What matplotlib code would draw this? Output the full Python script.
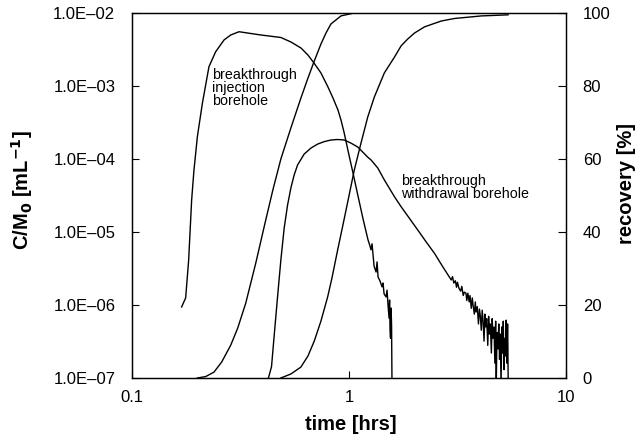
import matplotlib
matplotlib.use("Agg")
import matplotlib.pyplot as plt
from matplotlib.ticker import FixedLocator, FuncFormatter, NullLocator

plt.rcParams['font.family'] = ['Liberation Sans', 'DejaVu Sans']

# breakthrough at injection borehole (C/M0, left axis)
t_inj = [0.1693, 0.1767, 0.1824, 0.1883, 0.1930, 0.2001, 0.2110, 0.2263, 0.2430, 0.2655,
         0.2851, 0.3113, 0.3526, 0.3923, 0.4853, 0.5397, 0.6003, 0.6465, 0.6893, 0.7425,
         0.7998, 0.8435, 0.8896, 0.9184, 0.9482, 1.000, 1.0435, 1.1003, 1.1607, 1.2242,
         1.250, 1.263, 1.277, 1.305, 1.333, 1.347, 1.361, 1.390, 1.420, 1.435,
         1.451, 1.482, 1.497, 1.513, 1.530, 1.538, 1.546, 1.554, 1.563, 1.571, 1.580]
c_inj = [9.4e-7, 1.25e-6, 4.1e-6, 2.74e-5, 7.06e-5, 2.02e-4, 5.79e-4, 1.84e-3, 2.95e-3, 4.27e-3,
         5.0e-3, 5.54e-3, 5.24e-3, 5.0e-3, 4.62e-3, 4.01e-3, 3.32e-3, 2.66e-3, 2.07e-3, 1.51e-3,
         9.7e-4, 6.85e-4, 4.69e-4, 3.42e-4, 2.34e-4, 1.13e-4, 6.43e-5, 3.11e-5, 1.51e-5, 7.76e-6,
         6.4e-6, 5.7e-6, 6.9e-6, 3.4e-6, 2.83e-6, 3.9e-6, 2.42e-6, 2.13e-6, 1.77e-6, 2.0e-6,
         1.42e-6, 1.29e-6, 1.6e-6, 1.0e-6, 6.6e-7, 1.17e-6, 4.5e-7, 3.5e-7, 9.1e-7, 5.3e-7, 5.0e-8]

# breakthrough at withdrawal borehole (C/M0, left axis)
t_wd = [0.4212, 0.4395, 0.4519, 0.4685, 0.4853, 0.5026, 0.5211, 0.5397, 0.5588, 0.5794,
        0.6217, 0.6675, 0.7167, 0.7686, 0.8257, 0.8867, 0.9513, 1.0214, 1.0970, 1.2200,
        1.2637, 1.3570, 1.4555, 1.6192, 1.7384, 1.8925, 2.0767, 2.2689, 2.4774, 2.7086,
        2.96, 3.00, 3.04, 3.09, 3.13, 3.16, 3.21, 3.27, 3.31, 3.36,
        3.40, 3.46, 3.49, 3.53, 3.58, 3.61, 3.66, 3.70, 3.73, 3.78,
        3.82, 3.85, 3.90, 3.95, 3.99, 4.03, 4.07, 4.11, 4.15, 4.19,
        4.23, 4.27, 4.31, 4.36, 4.40, 4.44, 4.48, 4.53, 4.57, 4.61,
        4.66, 4.70, 4.74, 4.77, 4.81, 4.86, 4.90, 4.94, 4.98, 5.02,
        5.06, 5.10, 5.14, 5.18, 5.22, 5.26, 5.30, 5.34, 5.38, 5.40, 5.42]
c_wd = [9.0e-8, 1.43e-7, 3.76e-7, 1.29e-6, 4.13e-6, 1.13e-5, 2.34e-5, 4.01e-5, 6.04e-5, 8.28e-5,
        1.17e-4, 1.41e-4, 1.6e-4, 1.73e-4, 1.82e-4, 1.85e-4, 1.82e-4, 1.65e-4, 1.46e-4, 1.06e-4,
        9.7e-5, 7.53e-5, 5.16e-5, 3.05e-5, 2.22e-5, 1.56e-5, 1.06e-5, 7.3e-6, 5.1e-6, 3.32e-6,
        2.2e-6, 2.45e-6, 2.0e-6, 2.15e-6, 1.75e-6, 2.05e-6, 1.7e-6, 1.55e-6, 1.8e-6, 1.35e-6,
        1.5e-6, 1.45e-6, 1.15e-6, 1.45e-6, 1.1e-6, 1.35e-6, 9.0e-7, 1.25e-6, 1.0e-6, 7.5e-7,
        1.1e-6, 8.0e-7, 9.5e-7, 5.5e-7, 8.8e-7, 7.0e-7, 4.5e-7, 8.5e-7, 6.0e-7, 3.2e-7,
        7.5e-7, 5.0e-7, 6.5e-7, 2.8e-7, 7.0e-7, 4.0e-7, 5.5e-7, 2.2e-7, 6.5e-7, 3.5e-7,
        5.0e-7, 1.6e-7, 6.0e-7, 8.0e-8, 4.2e-7, 2.5e-7, 5.5e-7, 1.8e-7, 4.0e-7, 8.0e-8,
        5.0e-7, 2.2e-7, 6.0e-7, 1.3e-7, 3.5e-7, 2.0e-7, 6.2e-7, 1.6e-7, 5.5e-7, 2.5e-7, 5.0e-8]

# recovery curves (%, right axis)
t_rec1 = [0.2001, 0.2186, 0.2386, 0.2591, 0.2851, 0.3071, 0.3343, 0.3719, 0.4093, 0.4457,
          0.4853, 0.5397, 0.6003, 0.6445, 0.6893, 0.7425, 0.7830, 0.8257, 0.9184, 1.0546, 1.60]
r_rec1 = [0.0, 0.4, 1.6, 4.4, 9.0, 13.7, 20.5, 31.5, 42.2, 51.5,
          60.0, 68.5, 76.7, 81.9, 86.6, 91.5, 94.5, 97.0, 99.2, 100.0, 100.0]

t_rec2 = [0.4853, 0.5397, 0.6003, 0.6465, 0.6915, 0.7425, 0.7972, 0.8346, 0.8867, 0.9352,
          0.9863, 1.0580, 1.1361, 1.2200, 1.3088, 1.4555, 1.6192, 1.7384, 1.8665, 2.0026,
          2.2277, 2.6606, 3.0643, 4.0720, 5.4079]
r_rec2 = [0.0, 1.1, 3.0, 6.0, 10.1, 15.6, 22.2, 27.4, 35.1, 41.6,
          48.2, 57.0, 64.4, 71.5, 77.0, 83.6, 87.9, 91.0, 92.9, 94.5,
          96.2, 97.8, 98.5, 99.2, 99.5]

ytick_vals = [1e-7, 1e-6, 1e-5, 1e-4, 1e-3, 1e-2]
xtick_vals = [0.1, 1, 10]
xtick_labels = ['0.1', '1', '10']
rtick_vals = [0, 20, 40, 60, 80, 100]

fig = plt.figure(figsize=(6.43, 4.38), dpi=100)
ax = fig.add_axes([132/643, 1-378/438, (566-132)/643, (378-13)/438])
ax2 = ax.twinx()

ax.plot(t_inj, c_inj, color='black', lw=1.0)
ax.plot(t_wd, c_wd, color='black', lw=1.0)
ax2.plot(t_rec1, r_rec1, color='black', lw=1.0)
ax2.plot(t_rec2, r_rec2, color='black', lw=1.0)

ax.set_xscale('log')
ax.set_yscale('log')
ax.set_xlim(0.1, 10)
ax.set_ylim(1e-7, 1e-2)
ax2.set_ylim(0, 100)

ax.xaxis.set_major_locator(FixedLocator(xtick_vals))
ax.xaxis.set_major_formatter(FuncFormatter(lambda v, p: xtick_labels[xtick_vals.index(v)] if v in xtick_vals else ''))
ax.xaxis.set_minor_locator(NullLocator())
ax.yaxis.set_major_locator(FixedLocator(ytick_vals))
ax.yaxis.set_minor_locator(NullLocator())
ax.yaxis.set_major_formatter(FuncFormatter(lambda v, p: ('%.1E' % v).replace('-', '\u2013')))
ax2.yaxis.set_major_locator(FixedLocator(rtick_vals))

ax.tick_params(axis='both', direction='in', length=5, width=0.8, labelsize=12, pad=12)
ax.tick_params(axis='x', pad=9)
ax2.tick_params(axis='y', direction='in', length=6, width=0.8, labelsize=12, pad=12)
for a in (ax, ax2):
    for s in a.spines.values():
        s.set_linewidth(0.9)

ax.text(0.233, 1.75e-3, 'breakthrough\ninjection\nborehole', fontsize=10.3,
        va='top', ha='left', linespacing=0.92)
ax.text(1.74, 6.2e-5, 'breakthrough\nwithdrawal borehole', fontsize=10.3,
        va='top', ha='left', linespacing=0.92)

fig.text(351/643, 1-424/438, 'time [hrs]', fontsize=14.5, fontweight='bold',
         ha='center', va='center')
fig.text(22/643, 1-190/438, r'C/M$_\mathbf{0}$ [mL$^\mathbf{-1}$]', fontsize=14.5,
         fontweight='bold', rotation=90, ha='center', va='center')
fig.text(627/643, 1-184/438, 'recovery [%]', fontsize=14.5, fontweight='bold',
         rotation=90, ha='center', va='center')

fig.savefig('out.png', dpi=100)
